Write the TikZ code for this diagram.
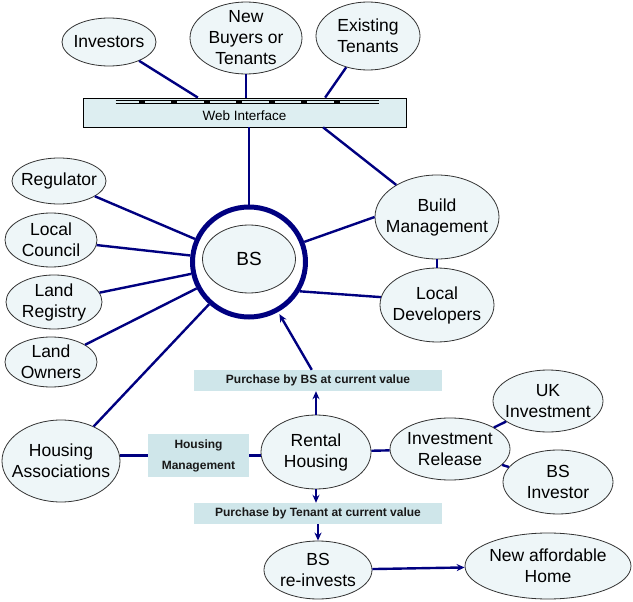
\documentclass[tikz,border=0pt]{standalone}
\usepackage{fontspec}
\setmainfont{Liberation Sans}
\usepackage{xcolor}
\usetikzlibrary{arrows.meta,shapes.geometric,calc}
\definecolor{navy}{RGB}{0,0,128}
\definecolor{bubble}{HTML}{EEF6F8}
\definecolor{tag}{HTML}{CFE6EA}
\definecolor{barfill}{HTML}{DDEEF1}

\begin{document}
\begin{tikzpicture}[x=1pt,y=-1pt,
  bub/.style={ellipse,draw=black!80,line width=0.8pt,fill=bubble,inner xsep=-16pt,inner ysep=-6pt,align=center,font=\fontsize{17.5}{21}\selectfont},
  tagbox/.style={rectangle,fill=tag,inner sep=0pt,minimum width=248pt,minimum height=21pt,align=center,font=\bfseries\fontsize{12}{21}\selectfont,text=black!90},
  link/.style={navy,line width=2.4pt},
  arr/.style={link,-{Stealth[length=8pt,width=7pt]}}]
  \useasboundingbox (0,0) rectangle (633,602);
  % top row and web bar
  \node[bub,minimum width=94pt,minimum height=48pt] (inv) at (109,42) {Investors};
  \node[bub,minimum width=112pt,minimum height=72pt] (nb) at (246,38) {New\\Buyers or\\Tenants};
  \node[bub,minimum width=104pt,minimum height=68pt] (et) at (368,36) {Existing\\Tenants};
  \node[draw=black,line width=0.8pt,fill=barfill,minimum width=323pt,minimum height=29pt,inner sep=0pt,
        text height=19pt,text depth=2pt,font=\fontsize{13.5}{16}\selectfont] (web) at (244.5,112.5) {Web Interface};
  \draw[line width=0.6pt] ($(web.north west)+(33,2.6)$) -- ++(263,0);
  \draw[line width=0.6pt] ($(web.north west)+(33,5.4)$) -- ++(263,0);
  \foreach \i in {0,...,6}
    \fill ($(web.north west)+(56+32.5*\i,2.4)$) rectangle ++(6,3.2);
  % left column
  \node[bub,minimum width=94pt,minimum height=46pt] (reg) at (59,181) {Regulator};
  \node[bub,minimum width=92pt,minimum height=54pt] (lc) at (51,240) {Local\\Council};
  \node[bub,minimum width=96pt,minimum height=54pt] (lr) at (54,302) {Land\\Registry};
  \node[bub,minimum width=92pt,minimum height=50pt] (lo) at (51,362) {Land\\Owners};
  \node[bub,minimum width=118pt,minimum height=82pt] (hass) at (61,461) {Housing\\Associations};
  % centre
  \node[ellipse,draw=navy,line width=5pt,fill=white,minimum width=113pt,minimum height=110pt] (bs) at (249,262) {};
  \node[bub,minimum width=93pt,minimum height=68pt,font=\fontsize{19}{22}\selectfont] (core) at (249,259) {BS};
  % right column
  \node[bub,minimum width=124pt,minimum height=84pt] (bm) at (437,217) {Build\\Management};
  \node[bub,minimum width=114pt,minimum height=74pt] (ld) at (437,305) {Local\\Developers};
  % bottom part
  \node[tagbox] (pbs) at (318,380.5) {Purchase by BS at current value};
  \node[tagbox,minimum width=101pt,minimum height=43pt] (hm) at (198.5,455.5) {Housing\\Management};
  \node[bub,minimum width=110pt,minimum height=74pt] (rh) at (316,452) {Rental\\Housing};
  \node[bub,minimum width=120pt,minimum height=62pt] (ir) at (450,449) {Investment\\Release};
  \node[bub,minimum width=110pt,minimum height=62pt] (uk) at (548,401) {UK\\Investment};
  \node[bub,minimum width=110pt,minimum height=64pt] (bsi) at (558,482) {BS\\Investor};
  \node[tagbox] (ptn) at (318,513.5) {Purchase by Tenant at current value};
  \node[bub,minimum width=108pt,minimum height=58pt] (bsr) at (318,570) {BS\\re-invests};
  \node[bub,minimum width=166pt,minimum height=66pt] (nah) at (548,566) {New affordable\\Home};
  % connectors
  \draw[link] (inv) -- ($(web.north west)!0.356!(web.north east)$);
  \draw[link] (nb) -- (nb |- web.north);
  \draw[link] (et) -- ($(web.north west)!0.749!(web.north east)$);
  \draw[link] (bs) -- (bs |- web.south);
  \draw[link] ($(web.south west)!0.743!(web.south east)$) -- (bm);
  \foreach \n in {reg,lc,lr,lo,hass}
    \draw[link] (\n) -- (bs);
  \draw[link] (bm.west) -- (bs.20);
  \draw[link] (bm) -- (ld);
  \draw[link] (ld.172) -- (bs.-30);
  \draw[arr] (rh) -- (rh |- pbs.south);
  \draw[arr,shorten >=2.5pt] (pbs) -- (bs);
  \draw[link] (hm.west) -- (hm.west -| hass.east);
  \draw[link] (hm.east) -- (hm.east -| rh.west);
  \draw[link] (rh) -- (ir);
  \draw[link] (ir) -- (uk);
  \draw[link] (ir) -- (bsi);
  \draw[arr] (rh) -- (rh |- ptn.north);
  \draw[arr] (ptn) -- (bsr);
  \draw[arr] (bsr) -- (nah);
\end{tikzpicture}
\end{document}
